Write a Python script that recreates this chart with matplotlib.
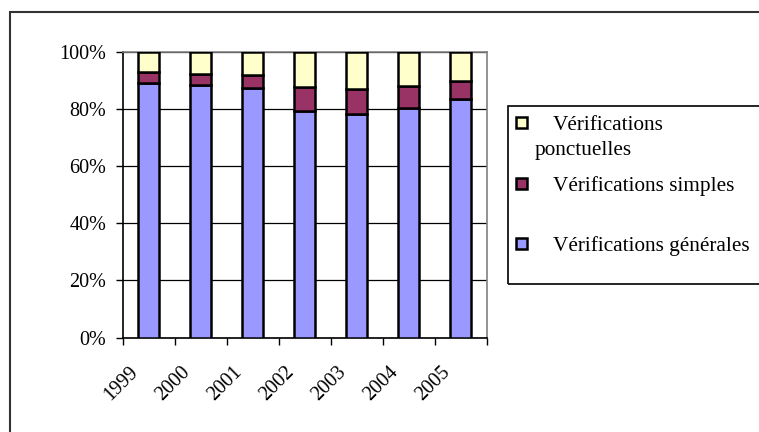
import matplotlib
matplotlib.use("Agg")
import matplotlib.pyplot as plt
import matplotlib.transforms as mtransforms
from matplotlib.patches import Rectangle
import numpy as np

# Data (shares in %)
years = ['1999', '2000', '2001', '2002', '2003', '2004', '2005']
generales = [89.1, 88.3, 87.3, 79.4, 78.3, 80.2, 83.3]
simples = [3.8, 4.0, 4.7, 8.1, 8.8, 7.8, 6.4]
ponctuelles = [7.1, 7.7, 8.0, 12.5, 12.9, 12.0, 10.3]

labels = ['Vérifications\nponctuelles', 'Vérifications simples', 'Vérifications générales']
colors = ['#FFFFCC', '#993366', '#9999FF']

plt.rcParams['font.family'] = ['Liberation Serif', 'DejaVu Serif']
plt.rcParams['font.size'] = 14.5

fig = plt.figure(figsize=(7.59, 4.32), dpi=100)
ax = fig.add_axes([0.1617, 0.2183, 0.4795, 0.662])

x = np.arange(len(years))
width = 0.4
bottom2 = np.array(generales)
bottom3 = bottom2 + np.array(simples)
ax.bar(x, generales, width, color=colors[2], edgecolor='black', linewidth=1.8, zorder=3)
ax.bar(x, simples, width, bottom=bottom2, color=colors[1], edgecolor='black', linewidth=1.8, zorder=3)
ax.bar(x, ponctuelles, width, bottom=bottom3, color=colors[0], edgecolor='black', linewidth=1.8, zorder=3)

ax.set_xlim(-0.5, len(years) - 0.5)
ax.set_ylim(0, 100)
ax.set_yticks(np.arange(0, 101, 20))
ax.set_yticklabels([f'{v}%' for v in range(0, 101, 20)])
ax.yaxis.grid(True, color='black', linewidth=0.9, zorder=0)

# ticks between categories, labels at category centres
ax.set_xticks(np.arange(-0.5, len(years), 1.0))
ax.set_xticklabels([])
ax.set_xticks(x, minor=True)
ax.set_xticklabels(years, minor=True, rotation=45, ha='right', va='center',
                   rotation_mode='anchor')
ax.tick_params(axis='x', which='minor', length=0, pad=22)
ax.tick_params(axis='x', which='major', direction='out', length=5, width=1, color='black')
ax.tick_params(axis='y', direction='out', length=5, width=1, pad=7)
offset = mtransforms.ScaledTranslation(-13 / 100, -1 / 100, fig.dpi_scale_trans)
for lab in ax.xaxis.get_minorticklabels():
    lab.set_transform(lab.get_transform() + offset)

ax.spines['left'].set_color('black')
ax.spines['bottom'].set_color('black')
ax.spines['top'].set_color('#808080')
ax.spines['right'].set_color('#808080')
for s in ax.spines.values():
    s.set_linewidth(1.2)

# outer frame (only top and left visible in the reference)
W, H = 759, 432
fig.add_artist(Rectangle((9.5 / W, -0.1), 1.2, 1.1 - 11.5 / H, transform=fig.transFigure,
                         fill=False, edgecolor='#333333', linewidth=1.5))

# legend box
fig.add_artist(Rectangle((508 / W, 1 - 284 / H), 0.5, (284 - 106) / H, transform=fig.transFigure,
                         fill=False, edgecolor='black', linewidth=1.2, clip_on=False))
sq = 11
entries = [(122, 130, 553), (183, 191, 553), (243, 251, 553)]
for (cy, base, tx), lab, col in zip(entries, labels, colors):
    fig.add_artist(Rectangle(((516) / W, 1 - (cy + sq / 2) / H), sq / W, sq / H,
                             transform=fig.transFigure, facecolor=col,
                             edgecolor='black', linewidth=1.8))
    parts = lab.split('\n')
    fig.text(tx / W, 1 - base / H, parts[0], ha='left', va='baseline', fontsize=15.3)
    if len(parts) > 1:
        fig.text(535 / W, 1 - 155 / H, parts[1], ha='left', va='baseline', fontsize=15.3)

fig.savefig('out.png', dpi=100)
